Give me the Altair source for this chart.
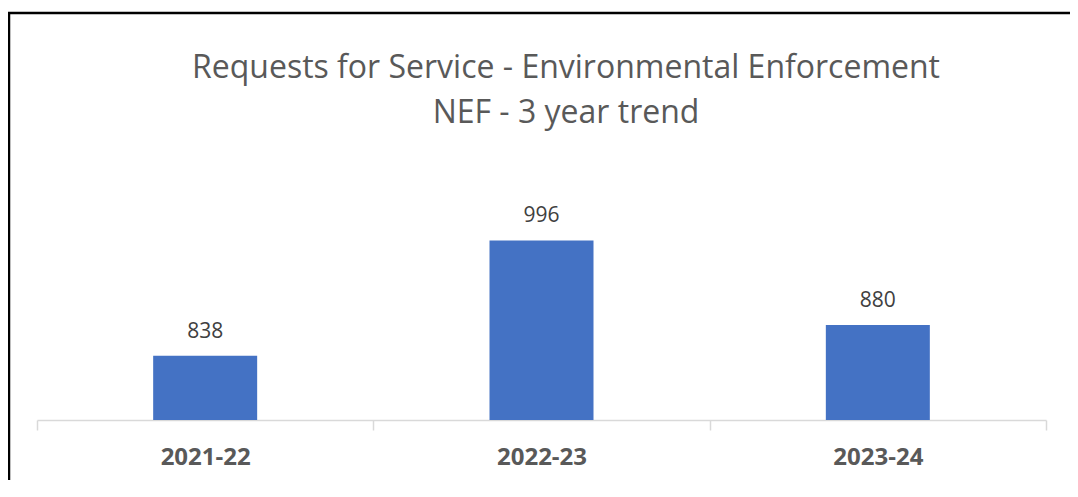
import altair as alt
import pandas as pd

years = ["2021-22", "2022-23", "2023-24"]
requests = [838, 996, 880]
title_lines = ["Requests for Service - Environmental Enforcement", "NEF - 3 year trend"]

df = pd.DataFrame({"year": years, "requests": requests})

base = alt.Chart(df)

x_enc = alt.X(
    "year:N",
    sort=years,
    scale=alt.Scale(paddingInner=0, paddingOuter=0),
    axis=alt.Axis(
        title=None,
        labelAngle=0,
        labelFont="Open Sans",
        labelFontSize=24,
        labelFontWeight="bold",
        labelColor="#595959",
        labelPadding=15,
        labelBaseline="top",
        tickBand="extent",
        tickSize=10,
        tickColor="#D9D9D9",
        tickWidth=1.5,
        domainColor="#D9D9D9",
        domainWidth=1.5,
        grid=False,
    ),
)
y_enc = alt.Y(
    "requests:Q",
    scale=alt.Scale(domain=[750, 1050], zero=False, nice=False, clamp=True),
    axis=None,
)

bars = base.mark_bar(color="#4472C4", size=104).encode(
    x=x_enc, y=y_enc, y2=alt.datum(750)
)
labels = base.mark_text(
    font="Open Sans", fontSize=21, color="#404040", baseline="alphabetic", dy=-18
).encode(x=alt.X("year:N", sort=years), y=alt.Y("requests:Q"), text="requests:Q")

title_df1 = pd.DataFrame({"t": [title_lines[0]]})
title_df2 = pd.DataFrame({"t": [title_lines[1]]})
title1 = alt.Chart(title_df1).mark_text(
    font="Open Sans", fontSize=32, color="#595959", align="center", baseline="alphabetic"
).encode(x=alt.value(529), y=alt.value(-123), text="t:N")
title2 = alt.Chart(title_df2).mark_text(
    font="Open Sans", fontSize=32, color="#595959", align="center", baseline="alphabetic"
).encode(x=alt.value(529), y=alt.value(-78), text="t:N")

frame_top = alt.Chart(title_df1).mark_rule(color="black", strokeWidth=2.5).encode(
    x=alt.value(-29), x2=alt.value(1045), y=alt.value(-188)
)
frame_left = alt.Chart(title_df1).mark_rule(color="black", strokeWidth=2.5).encode(
    x=alt.value(-28), y=alt.value(-189), y2=alt.value(300)
)

chart = (
    alt.layer(bars, labels, title1, title2, frame_top, frame_left)
    .properties(
        width=1009,
        height=219,
        background="white",
        autosize=alt.AutoSizeParams(type="none"),
        padding={"left": 29, "top": 193, "right": 24, "bottom": 60},
    )
    .configure_view(strokeWidth=0, stroke=None)
)

chart.save("out.html", embed_options={"renderer": "svg", "actions": False})
